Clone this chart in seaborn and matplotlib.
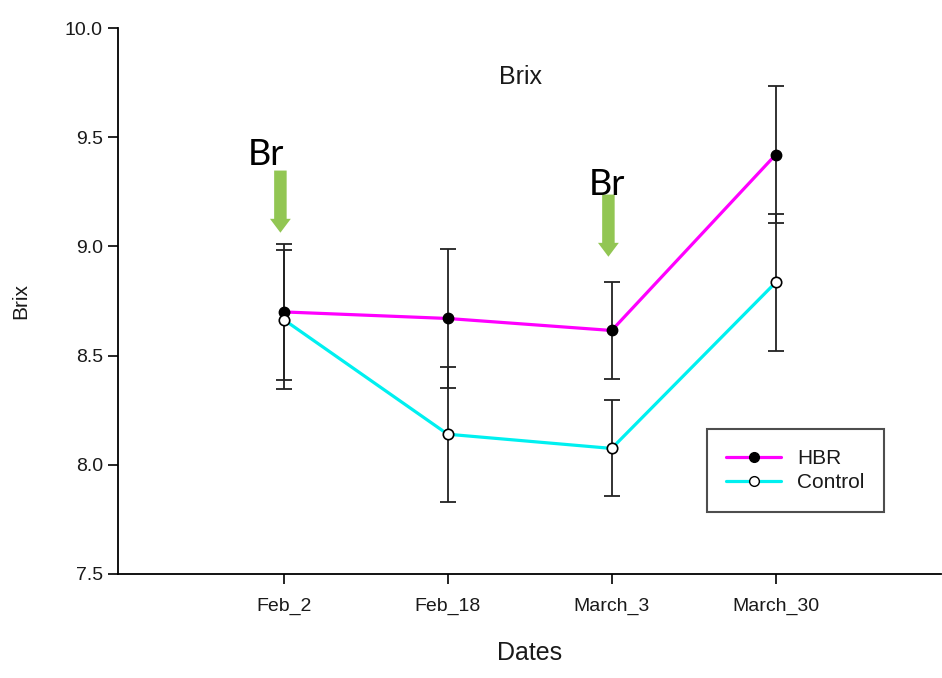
import matplotlib
matplotlib.use("Agg")
import matplotlib.pyplot as plt
from matplotlib.lines import Line2D
import seaborn as sns
import pandas as pd

dates = ["Feb_2", "Feb_18", "March_3", "March_30"]
hbr_mean = [8.70, 8.67, 8.615, 9.42]
hbr_err = [0.31, 0.32, 0.22, 0.315]
control_mean = [8.665, 8.14, 8.075, 8.835]
control_err = [0.32, 0.31, 0.22, 0.315]
treatment_dates = ["Feb_2", "March_3"]

sns.set_style("white")
plt.rcParams["font.family"] = ["Liberation Sans", "DejaVu Sans"]
plt.rcParams["text.color"] = "#1a1a1a"
plt.rcParams["axes.labelcolor"] = "#1a1a1a"
plt.rcParams["xtick.labelcolor"] = "#1a1a1a"
plt.rcParams["ytick.labelcolor"] = "#1a1a1a"

df = pd.DataFrame({
    "Dates": dates * 2,
    "Brix": hbr_mean + control_mean,
    "Group": ["HBR"] * 4 + ["Control"] * 4,
})
df["pos"] = df["Dates"].map({d: i for i, d in enumerate(dates)})

fig = plt.figure(figsize=(9.42, 6.78), dpi=100)
ax = fig.add_axes([0.1253, 0.1534, 0.874, 0.8053])

# error bars underneath the lines
for means, errs in [(hbr_mean, hbr_err), (control_mean, control_err)]:
    ax.errorbar(range(len(dates)), means, yerr=errs, fmt="none",
                ecolor="#222222", elinewidth=1.3, capsize=6, capthick=1.3, zorder=2)

palette = {"HBR": "#ff00ff", "Control": "#00f0f0"}
sns.lineplot(data=df, x="pos", y="Brix", hue="Group", palette=palette,
             linewidth=2.3, legend=False, ax=ax, zorder=3, sort=False)

ax.plot(range(len(dates)), hbr_mean, "o", ms=7.5, mfc="black", mec="black",
        zorder=4, ls="none")
ax.plot(range(len(dates)), control_mean, "o", ms=7.5, mfc="white", mec="black",
        mew=1.2, zorder=4, ls="none")

ax.set_xlim(-1.01, 4.01)
ax.set_ylim(7.5, 10.0)
ax.set_xticks(range(len(dates)))
ax.set_xticklabels(dates)
ax.set_yticks([7.5, 8.0, 8.5, 9.0, 9.5, 10.0])
ax.set_yticklabels(["7.5", "8.0", "8.5", "9.0", "9.5", "10.0"])
ax.tick_params(axis="both", which="both", direction="out", length=7, width=1.2,
               color="black", labelsize=14, left=True, bottom=True)
ax.tick_params(axis="x", pad=10)
ax.tick_params(axis="y", pad=4)

for side in ["top", "right"]:
    ax.spines[side].set_visible(False)
for side in ["left", "bottom"]:
    ax.spines[side].set_color("black")
    ax.spines[side].set_linewidth(1.3)

ax.set_xlabel("Dates", fontsize=18, labelpad=19)
ax.set_ylabel("Brix", fontsize=15, labelpad=25)
ax.text(0.489, 0.91, "Brix", transform=ax.transAxes, ha="center", va="center",
        fontsize=18)

# application markers: label above a downward arrow
arrow_tops = {"Feb_2": 9.36, "March_3": 9.25}
label_pos = {"Feb_2": (-0.11, 9.42), "March_3": (-0.03, 9.285)}
for d in treatment_dates:
    i = dates.index(d)
    top = arrow_tops[d]
    ax.annotate("", xy=(i - 0.02, top - 0.31), xytext=(i - 0.02, top),
                arrowprops=dict(arrowstyle="simple,head_width=1.5,head_length=1.0,tail_width=0.9",
                                color="#8cc34a", lw=0, alpha=0.95),
                zorder=5)
    dx, ty = label_pos[d]
    ax.text(i + dx, ty, "Br", fontsize=26, family=["Lato", "DejaVu Sans"],
            ha="center", va="center", zorder=5, color="black")

handles = [
    Line2D([], [], color="#ff00ff", lw=2.3, marker="o", ms=7, mfc="black", mec="black"),
    Line2D([], [], color="#00f0f0", lw=2.3, marker="o", ms=7, mfc="white", mec="black"),
]
leg = ax.legend(handles, ["HBR", "Control"], loc="upper left",
                bbox_to_anchor=(0.715, 0.265), fontsize=15, frameon=True,
                fancybox=False, edgecolor="#222222", borderpad=0.95,
                handlelength=2.6, labelspacing=0.25, handletextpad=0.8,
                borderaxespad=0)
leg.get_frame().set_linewidth(1.5)
leg.get_frame().set_facecolor("white")

fig.savefig("out.png", dpi=100)
